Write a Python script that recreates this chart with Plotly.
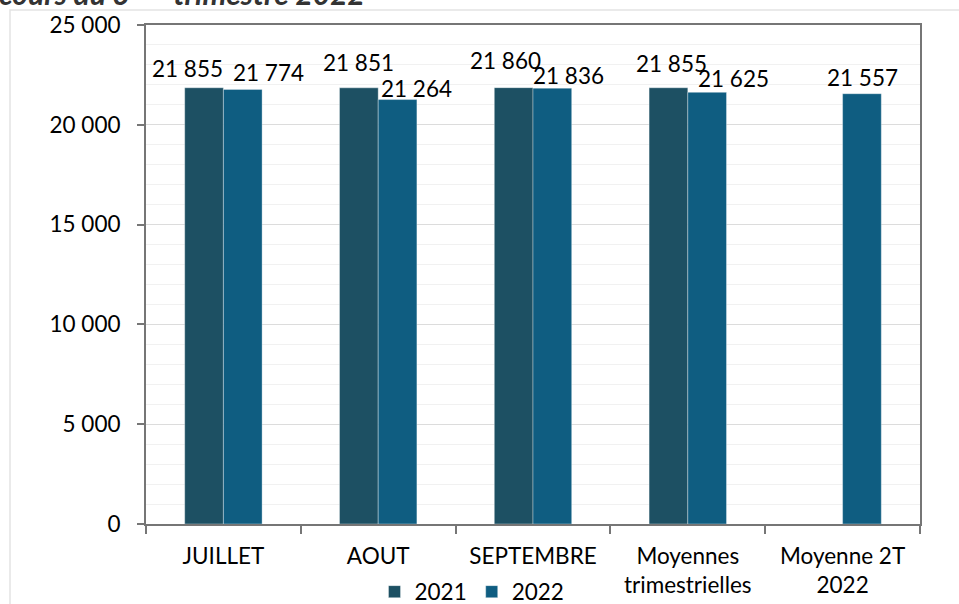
import plotly.graph_objects as go

categories = ["JUILLET", "AOUT", "SEPTEMBRE", "Moyennes<br>trimestrielles", "Moyenne 2T<br>2022"]
values_2021 = [21855, 21851, 21860, 21855, None]
values_2022 = [21774, 21264, 21836, 21625, 21557]
series_names = ["2021", "2022"]
y_ticks = [0, 5000, 10000, 15000, 20000, 25000]
title_text = "cours du 3<sup>ème</sup> trimestre 2022"

col21 = "#1D5063"
col22 = "#0F5D81"
FONT = "Lato"
FS = 22.5

W, H = 959, 604
ML, MR, MT, MB = 146, 39, 25, 80
PW, PH = W - ML - MR, H - MT - MB

fig = go.Figure()
fig.add_trace(go.Bar(x=categories, y=values_2021, name=series_names[0],
                     marker=dict(color=col21, line=dict(color="rgba(255,255,255,0.35)", width=1))))
fig.add_trace(go.Bar(x=categories, y=values_2022, name=series_names[1],
                     marker=dict(color=col22, line=dict(color="rgba(255,255,255,0.35)", width=1))))

def fmt(v):
    return f"{v:,}".replace(",", " ")

cat_px = PW / len(categories)
bar_off = cat_px * 0.125
# label offsets (style): (dx, dy) in px relative to bar top centre
off21 = [(-17, 4), (0, 10), (-8, 12), (3, 9)]
off22 = [(26, 1), (19, -4), (16, -3), (26, -2), (1, 1)]
for i, v in enumerate(values_2021):
    if v is None:
        continue
    dx, dy = off21[i]
    fig.add_annotation(x=categories[i], y=v, xref="x", yref="y", text=fmt(v), showarrow=False,
                       xshift=-bar_off + dx, yshift=dy, yanchor="bottom",
                       font=dict(family=FONT, size=FS, color="black"))
for i, v in enumerate(values_2022):
    if v is None:
        continue
    dx, dy = off22[i]
    fig.add_annotation(x=categories[i], y=v, xref="x", yref="y", text=fmt(v), showarrow=False,
                       xshift=bar_off + dx, yshift=dy, yanchor="bottom",
                       font=dict(family=FONT, size=FS, color="black"))

# partially visible title
fig.add_annotation(x=(-3 - ML) / PW, y=1 + (MT - 13) / PH, xref="paper", yref="paper",
                   xanchor="left", yanchor="bottom", showarrow=False,
                   text="<b><i>" + title_text + "</i></b>",
                   font=dict(family=FONT, size=30, color="#333333"))

# outer chart frame
fig.add_shape(type="rect", xref="paper", yref="paper",
              x0=(10 - ML) / PW, x1=(W + 10 - ML) / PW,
              y0=-(MB + 10) / PH, y1=1 + (MT - 10) / PH,
              line=dict(color="#e3e3e3", width=1.5), layer="below")

axis_col = "#767676"
fig.update_layout(
    width=W, height=H,
    margin=dict(l=ML, r=MR, t=MT, b=MB, pad=0, autoexpand=False),
    paper_bgcolor="white", plot_bgcolor="white",
    separators=", ",
    barmode="group", bargap=0.5, bargroupgap=0,
    font=dict(family=FONT, size=FS, color="black"),
    showlegend=True,
    legend=dict(orientation="h", x=(472 - ML) / PW, xanchor="center",
                y=-(592 - MT - PH) / PH, yanchor="middle",
                font=dict(family=FONT, size=FS, color="black"),
                itemwidth=30, tracegroupgap=0, bgcolor="rgba(0,0,0,0)"),
    xaxis=dict(showline=True, linecolor=axis_col, linewidth=2, mirror=True,
               ticks="outside", ticklen=8, tickcolor=axis_col, tickwidth=2,
               tickson="boundaries", showgrid=False, automargin=False,
               ticklabelstandoff=11,
               tickfont=dict(family=FONT, size=FS, color="black")),
    yaxis=dict(range=[0, 25000], tickvals=y_ticks, tickformat=",d",
               showline=True, linecolor=axis_col, linewidth=2, mirror=True,
               ticks="outside", ticklen=7, tickcolor=axis_col, tickwidth=2,
               ticklabelstandoff=12, automargin=False,
               showgrid=True, gridcolor="#dcdcdc", gridwidth=1,
               minor=dict(dtick=1000, showgrid=True, gridcolor="#f1f1f1", gridwidth=1),
               zeroline=False,
               tickfont=dict(family=FONT, size=FS, color="black")),
)

fig.write_html("out.html", config={"displayModeBar": False},
               post_script="document.body.style.margin='0';document.body.style.overflow='hidden';")
